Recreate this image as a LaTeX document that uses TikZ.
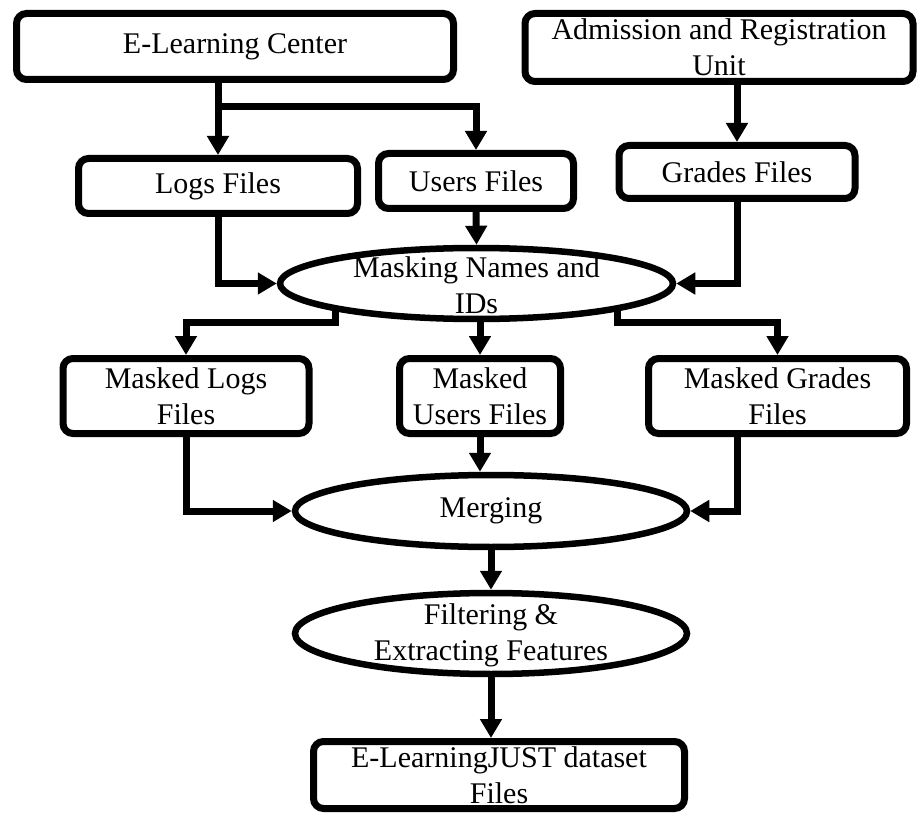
\documentclass[tikz,border=0pt]{standalone}
\usepackage{fontspec}
\setmainfont{Liberation Serif}
\usetikzlibrary{arrows.meta,shapes.geometric}
\begin{document}
\begin{tikzpicture}[x=1pt,y=-1pt,
  txt/.style={inner sep=0pt,align=center,font=\fontsize{30}{36}\selectfont},
  box/.style={txt,draw,line width=7pt,rounded corners=10pt},
  oval/.style={txt,draw,ellipse,line width=6.5pt},
  arr/.style={line width=7pt,-{Triangle[length=19pt,width=21pt]}}]
\useasboundingbox (0,0) rectangle (919,813);
% nodes
\node[box,minimum width=437pt,minimum height=66pt] (elc) at (235,46.5) {E-Learning Center};
\node[box,minimum width=388pt,minimum height=68pt] (aru) at (719,47.5) {Admission and Registration\\Unit};
\node[box,minimum width=279pt,minimum height=55pt] (logs) at (218,186) {Logs Files};
\node[box,minimum width=195pt,minimum height=55pt] (users) at (476,181) {Users Files};
\node[box,minimum width=236pt,minimum height=53pt] (grades) at (737,172) {Grades Files};
\node[oval,minimum width=393pt,minimum height=71pt] (mask) at (476.5,283.5) {};
\node[txt] (maskt) at (476.5,285) {Masking Names and\\IDs};
\node[box,minimum width=246pt,minimum height=75pt] (mlogs) at (186,396) {Masked Logs\\Files};
\node[box,minimum width=161pt,minimum height=75pt] (musers) at (480,396) {Masked\\Users Files};
\node[box,minimum width=258pt,minimum height=75pt] (mgrades) at (777.5,396) {Masked Grades\\Files};
\node[oval,minimum width=392pt,minimum height=72pt] (merge) at (491,511) {Merging};
\node[oval,minimum width=392pt,minimum height=81pt] (filter) at (491,633.5) {};
\node[txt] (filtert) at (491,635) {Filtering \&\\Extracting Features};
\node[box,minimum width=371pt,minimum height=67pt] (final) at (499,775) {E-LearningJUST dataset\\Files};
% connectors
\coordinate (br) at (218,107);
\draw[arr] (elc.south -| logs.north) -- (logs.north);
\draw[arr] (br) -| (users.north);
\draw[arr] (aru.south -| grades.north) -- (grades.north);
\draw[arr] (logs.south) |- (mask.west);
\draw[arr] (users.south) -- (mask.north);
\draw[arr] (grades.south) |- (mask.east);
\draw[arr] (mask.south west) -- ++(0,12) -| (mlogs.north);
\draw[arr] (mask.south -| musers.north) -- (musers.north);
\draw[arr] (mask.south east) -- ++(0,12) -| (mgrades.north);
\draw[arr] (mlogs.south) |- (merge.west);
\draw[arr] (musers.south) -- (musers.south |- merge.north);
\draw[arr] ([xshift=-40.5pt]mgrades.south) |- (merge.east);
\draw[arr] (merge.south) -- (filter.north);
\draw[arr] (filter.south) -- (filter.south |- final.north);
\end{tikzpicture}
\end{document}
